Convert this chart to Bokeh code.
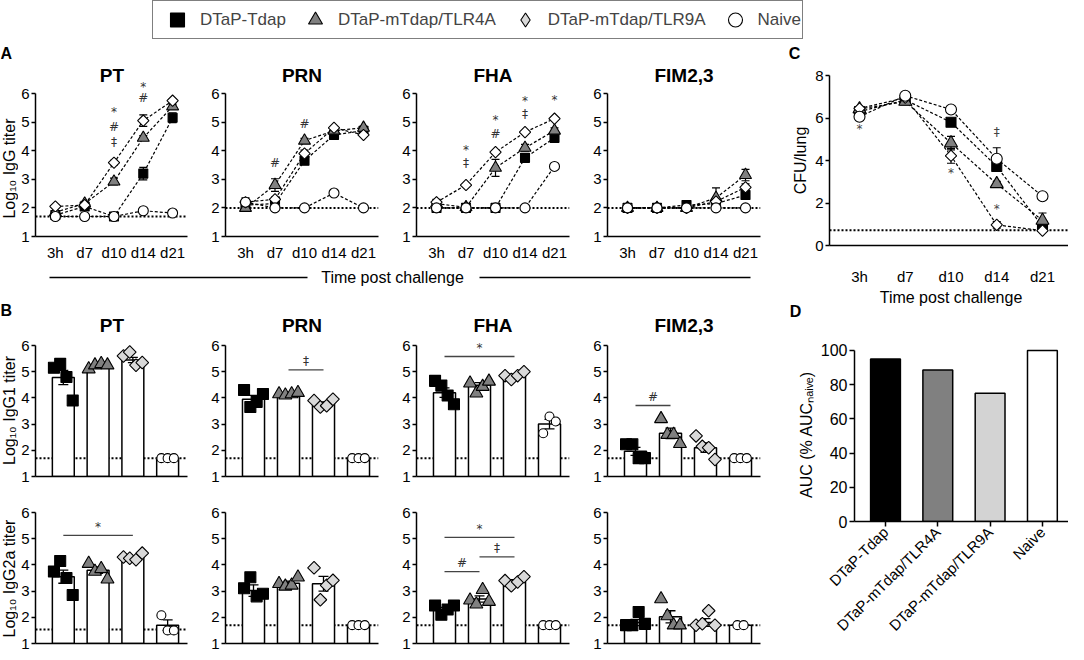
import numpy as np
from math import pi
from bokeh.plotting import figure
from bokeh.layouts import row, column
from bokeh.models import Range1d, FixedTicker, Span, Label, Legend, LegendItem
from bokeh.embed import file_html
from bokeh.resources import INLINE
from bokeh.core.properties import value

FONT = "Liberation Sans"
SYM_FONT = "DejaVu Sans"

TIMES = ["3h", "d7", "d10", "d14", "d21"]
GROUPS = ["DTaP-Tdap", "DTaP-mTdap/TLR4A", "DTaP-mTdap/TLR9A", "Naive"]
ANTIGENS = ["PT", "PRN", "FHA", "FIM2,3"]
LOG_TICKS = [1, 2, 3, 4, 5, 6]
CFU_TICKS = [0, 2, 4, 6, 8]
AUC_TICKS = [0, 20, 40, 60, 80, 100]

# ---------------- Panel A: Log10 IgG titer over time (mean, SEM) ----------------
A_PT_TDAP = [1.75, 2.05, 1.70, 3.20, 5.15]
A_PT_TLR4 = [1.85, 2.15, 2.92, 4.45, 5.55]
A_PT_TLR9 = [2.05, 2.10, 3.58, 5.05, 5.75]
A_PT_NAIVE = [1.70, 1.70, 1.70, 1.90, 1.82]
A_PT_TDAP_SEM = [0.03, 0.05, 0.00, 0.22, 0.17]
A_PT_TLR4_SEM = [0.04, 0.08, 0.12, 0.08, 0.08]
A_PT_TLR9_SEM = [0.04, 0.05, 0.08, 0.20, 0.05]
A_PT_NAIVE_SEM = [0.00, 0.00, 0.00, 0.05, 0.05]
A_PT_LOD = 1.7
A_PT_SIG_T = ["d10", "d10", "d10", "d14", "d14"]
A_PT_SIG_Y = [5.36, 4.84, 4.31, 6.23, 5.83]
A_PT_SIG = ["*", "#", "‡", "*", "#"]

A_PRN_TDAP = [2.10, 2.15, 3.65, 4.55, 4.70]
A_PRN_TLR4 = [2.00, 2.80, 4.35, 4.70, 4.80]
A_PRN_TLR9 = [2.20, 2.30, 3.90, 4.80, 4.55]
A_PRN_NAIVE = [2.20, 2.00, 2.00, 2.52, 2.00]
A_PRN_TDAP_SEM = [0.05, 0.05, 0.08, 0.05, 0.05]
A_PRN_TLR4_SEM = [0.05, 0.22, 0.08, 0.08, 0.05]
A_PRN_TLR9_SEM = [0.15, 0.08, 0.12, 0.05, 0.05]
A_PRN_NAIVE_SEM = [0.05, 0.00, 0.00, 0.05, 0.00]
A_PRN_LOD = 2.0
A_PRN_SIG_T = ["d7", "d10"]
A_PRN_SIG_Y = [3.56, 4.95]
A_PRN_SIG = ["#", "#"]

A_FHA_TDAP = [2.00, 2.00, 2.00, 3.75, 4.45]
A_FHA_TLR4 = [2.15, 2.02, 3.40, 4.10, 4.70]
A_FHA_TLR9 = [2.20, 2.80, 3.95, 4.65, 5.12]
A_FHA_NAIVE = [2.00, 2.00, 2.00, 2.00, 3.45]
A_FHA_TDAP_SEM = [0.04, 0.00, 0.00, 0.10, 0.08]
A_FHA_TLR4_SEM = [0.15, 0.02, 0.30, 0.12, 0.10]
A_FHA_TLR9_SEM = [0.08, 0.05, 0.05, 0.05, 0.05]
A_FHA_NAIVE_SEM = [0.00, 0.00, 0.00, 0.00, 0.08]
A_FHA_LOD = 2.0
A_FHA_SIG_T = ["d7", "d7", "d10", "d10", "d14", "d14", "d21"]
A_FHA_SIG_Y = [4.02, 3.56, 5.07, 4.60, 5.73, 5.30, 5.77]
A_FHA_SIG = ["*", "‡", "*", "#", "*", "‡", "*"]

A_FIM_TDAP = [2.00, 2.00, 2.10, 2.15, 2.45]
A_FIM_TLR4 = [2.00, 2.00, 2.00, 2.35, 3.15]
A_FIM_TLR9 = [2.00, 2.00, 2.00, 2.22, 2.72]
A_FIM_NAIVE = [2.00, 2.00, 2.00, 2.00, 2.00]
A_FIM_TDAP_SEM = [0.00, 0.00, 0.03, 0.05, 0.12]
A_FIM_TLR4_SEM = [0.00, 0.00, 0.00, 0.35, 0.20]
A_FIM_TLR9_SEM = [0.00, 0.00, 0.00, 0.05, 0.12]
A_FIM_NAIVE_SEM = [0.00, 0.00, 0.00, 0.00, 0.00]
A_FIM_LOD = 2.0
A_FIM_SIG_T = []
A_FIM_SIG_Y = []
A_FIM_SIG = []

# ---------------- Panel B: IgG1 / IgG2a (individual mice, mean, SEM) ----------------
B_G1_PT_PTS = [[5.15, 5.30, 4.80, 3.90], [5.10, 5.25, 5.30, 5.25], [5.60, 5.75, 5.25, 5.35], [1.70, 1.70, 1.70]]
B_G1_PT_BAR = [4.78, 5.22, 5.45, 1.70]
B_G1_PT_SEM = [0.27, 0.04, 0.10, 0.00]
B_G1_PT_LOD = 1.7
B_G1_PT_SIG = []

B_G1_PRN_PTS = [[4.30, 3.65, 3.85, 4.15], [4.15, 4.10, 4.15, 4.20], [3.90, 3.65, 3.70, 3.95], [1.70, 1.70, 1.70]]
B_G1_PRN_BAR = [3.95, 4.12, 3.78, 1.70]
B_G1_PRN_SEM = [0.15, 0.03, 0.07, 0.00]
B_G1_PRN_LOD = 1.7
B_G1_PRN_SIG = [(1, 2, 5.07, "‡")]

B_G1_FHA_PTS = [[4.65, 4.47, 4.09, 3.76], [4.56, 4.18, 4.43, 4.63], [4.85, 4.70, 4.85, 5.00], [2.65, 3.29, 3.10]]
B_G1_FHA_BAR = [4.20, 4.48, 4.85, 3.00]
B_G1_FHA_SEM = [0.18, 0.10, 0.06, 0.18]
B_G1_FHA_LOD = 1.7
B_G1_FHA_SIG = [(0, 2, 5.58, "*")]

B_G1_FIM_PTS = [[2.23, 2.23, 1.70, 1.70], [3.20, 2.60, 2.60, 2.25], [2.55, 2.15, 2.10, 1.65], [1.70, 1.70, 1.70]]
B_G1_FIM_BAR = [1.96, 2.65, 2.10, 1.70]
B_G1_FIM_SEM = [0.15, 0.20, 0.18, 0.00]
B_G1_FIM_LOD = 1.7
B_G1_FIM_SIG = [(0, 1, 3.71, "#")]

B_G2_PT_PTS = [[3.75, 4.15, 3.50, 2.85], [4.05, 3.75, 3.85, 3.45], [4.30, 4.25, 4.20, 4.45], [2.08, 1.50, 1.50]]
B_G2_PT_BAR = [3.55, 3.80, 4.30, 1.70]
B_G2_PT_SEM = [0.25, 0.12, 0.05, 0.20]
B_G2_PT_LOD = 1.53
B_G2_PT_SIG = [(0, 2, 5.13, "*")]

B_G2_PRN_PTS = [[3.11, 3.53, 2.80, 2.90], [3.28, 3.18, 3.22, 3.53], [3.89, 2.67, 3.22, 3.41], [1.70, 1.70, 1.70]]
B_G2_PRN_BAR = [3.02, 3.30, 3.28, 1.70]
B_G2_PRN_SEM = [0.22, 0.08, 0.28, 0.00]
B_G2_PRN_LOD = 1.7
B_G2_PRN_SIG = []

B_G2_FHA_PTS = [[2.45, 2.10, 2.30, 2.45], [2.65, 2.50, 3.05, 2.60], [3.40, 3.20, 3.35, 3.55], [1.70, 1.70, 1.70]]
B_G2_FHA_BAR = [2.30, 2.70, 3.37, 1.70]
B_G2_FHA_SEM = [0.08, 0.12, 0.07, 0.00]
B_G2_FHA_LOD = 1.7
B_G2_FHA_SIG = [(0, 2, 5.05, "*"), (1, 2, 4.31, "‡"), (0, 1, 3.74, "#")]

B_G2_FIM_PTS = [[1.70, 1.70, 2.20, 1.75], [2.70, 2.05, 1.70, 1.70], [1.70, 1.75, 2.25, 1.70], [1.70, 1.70]]
B_G2_FIM_BAR = [1.80, 2.02, 1.80, 1.70]
B_G2_FIM_SEM = [0.12, 0.23, 0.15, 0.00]
B_G2_FIM_LOD = 1.7
B_G2_FIM_SIG = []

# ---------------- Panel C: CFU/lung (log10) ----------------
C_TDAP = [6.30, 6.85, 5.80, 3.72, 0.90]
C_TLR4 = [6.42, 6.78, 4.82, 2.90, 1.18]
C_TLR9 = [6.45, 6.95, 4.22, 0.97, 0.70]
C_NAIVE = [6.06, 7.05, 6.40, 4.08, 2.32]
C_TDAP_SEM = [0.05, 0.05, 0.08, 0.15, 0.20]
C_TLR4_SEM = [0.05, 0.05, 0.32, 0.12, 0.35]
C_TLR9_SEM = [0.05, 0.05, 0.35, 0.15, 0.05]
C_NAIVE_SEM = [0.05, 0.05, 0.05, 0.52, 0.08]
C_LOD = 0.72
C_SIG_T = ["3h", "d10", "d14", "d14"]
C_SIG_Y = [5.50, 3.42, 5.36, 1.70]
C_SIG = ["*", "*", "‡", "*"]

# ---------------- Panel D: AUC (% of naive) ----------------
D_AUC = [95.0, 88.5, 75.0, 100.0]

# ---------------- styles / layout constants ----------------
MARKS = ["square", "triangle", "square", "circle"]
LEGEND_MARKS = ["square", "triangle", "diamond", "circle"]
ANGLES = [0.0, 0.0, pi / 4, 0.0]
FILL_A = ["black", "#808080", "white", "white"]
FILL_B = ["black", "#808080", "#d9d9d9", "white"]
SIZE_A = [9, 12, 8, 10]
SIZE_B = [11, 13, 9, 9]
SIZE_C = [10, 13, 8, 11]
D_COLORS = ["black", "#808080", "#d3d3d3", "white"]

TOTAL_W = 1068
LEG_H = 40
BODY_H = 610
FRAME_W = 153
A_PX = 28.6          # px per log unit, panel A
B_PX = 26.2          # px per log unit, panel B
A_STEP = 29.5
A_X0 = 1 - 20 / A_STEP
B_STEP = 35.0
B_X0 = -0.8
BAR_W = 0.63
YL_W = 18                      # strip with panel letters A/B and the y-axis titles
W_FIRST, W_OTHER = 175, 191
BL_FIRST, BL_OTHER = 16, 32
GRID_W = W_FIRST + 3 * W_OTHER
LEFT_W = YL_W + GRID_W
RIGHT_W = TOTAL_W - LEFT_W
FRAME_LEFTS = [BL_FIRST] + [W_FIRST + (i - 1) * W_OTHER + BL_OTHER for i in range(1, 4)]
SIG_GAP = 0.33


def no_align(p):
    if "frame_align" in p.properties():
        p.frame_align = False
    return p


def style_axes(p, size="15px"):
    for ax in p.axis:
        ax.axis_line_color = "black"
        ax.axis_line_width = 1.5
        ax.major_tick_line_color = "black"
        ax.major_tick_line_width = 1.5
        ax.minor_tick_line_color = None
        ax.major_tick_in = 0
        ax.major_tick_out = 4
        ax.major_label_standoff = 2
        ax.major_label_text_font = FONT
        ax.major_label_text_font_size = size
        ax.major_label_text_color = "black"
        ax.axis_label_text_font = FONT
        ax.axis_label_text_font_size = "16px"
        ax.axis_label_text_font_style = "normal"
        ax.axis_label_text_color = "black"
        ax.axis_label_standoff = 3


def base_fig(w, h, xr, yr, bl, br, bt, bb, size="15px"):
    p = figure(width=w, height=h, x_range=Range1d(*xr), y_range=Range1d(*yr), title=None,
               toolbar_location=None, output_backend="svg",
               min_border_left=bl, min_border_right=br,
               min_border_top=bt, min_border_bottom=bb)
    p.outline_line_color = None
    p.grid.visible = False
    p.background_fill_color = "white"
    p.border_fill_color = "white"
    style_axes(p, size)
    return no_align(p)


def strip(w, h):
    s = figure(width=w, height=h, x_range=Range1d(0, w), y_range=Range1d(0, h), title=None,
               toolbar_location=None, output_backend="svg", x_axis_type=None, y_axis_type=None,
               min_border=0)
    s.outline_line_color = None
    s.background_fill_color = "white"
    s.border_fill_color = "white"
    return no_align(s)


def put(s, x, y, text, size="16px", bold=False, align="left", angle=0.0, units="data"):
    s.add_layout(Label(x=x, y=y, x_units=units, y_units=units, text=text, text_font=FONT,
                       text_font_size=size, text_font_style="bold" if bold else "normal",
                       angle=angle, text_align=align, text_baseline="middle",
                       text_color="black"))


def lod_line(p, lod):
    p.add_layout(Span(location=lod, dimension="width", line_color="black",
                      line_width=2, line_dash="2 2", level="underlay"))


def draw_course(p, series, sems, sizes, fills):
    x = np.arange(1, len(TIMES) + 1)
    for y in series:
        p.line(x, y, line_color="black", line_width=1.2, line_dash="3 2")
    for y, e in zip(series, sems):
        y = np.asarray(y, dtype=float)
        e = np.asarray(e, dtype=float)
        p.segment(x, y - e, x, y + e, line_color="black", line_width=1.2)
        p.scatter(x, y + e, marker="dash", size=8, line_color="black", line_width=1.2)
        p.scatter(x, y - e, marker="dash", size=8, line_color="black", line_width=1.2)
    for g, y in enumerate(series):
        p.scatter(x, y, marker=MARKS[g], angle=ANGLES[g], size=sizes[g],
                  fill_color=fills[g], line_color="black", line_width=1.1)


def draw_sig_text(p, xs, ys, texts, color="#333333"):
    if len(texts) == 0:
        return
    p.text(x=xs, y=ys, text=texts, text_font=value(SYM_FONT), text_font_size=value("12px"),
           text_align="center", text_baseline="middle", text_color=color)


def panel_a(title, series, sems, lod, sig_t, sig_y, sig, i):
    w = W_FIRST if i == 0 else W_OTHER
    bl = BL_FIRST if i == 0 else BL_OTHER
    fh = 173
    p = base_fig(w, 226, (A_X0, A_X0 + FRAME_W / A_STEP), (1, 1 + fh / A_PX),
                 bl, w - bl - FRAME_W, 23, 30)
    p.yaxis.bounds = (1, 6)
    p.yaxis.ticker = FixedTicker(ticks=LOG_TICKS)
    xt = list(range(1, len(TIMES) + 1))
    p.xaxis.ticker = FixedTicker(ticks=xt)
    p.xaxis.major_label_overrides = {k: t for k, t in zip(xt, TIMES)}
    p.xaxis.major_tick_line_color = None
    p.xaxis.major_tick_out = 0
    p.xaxis.major_label_standoff = 7
    lod_line(p, lod)
    draw_course(p, series, sems, SIZE_A, FILL_A)
    draw_sig_text(p, [TIMES.index(t) + 1 for t in sig_t], sig_y, sig)
    put(p, FRAME_W / 2, 161, title, size="19px", bold=True, align="center", units="screen")
    return p


def panel_b(title, pts, bars, sems, lod, sigs, top_row, i):
    w = W_FIRST if i == 0 else W_OTHER
    bl = BL_FIRST if i == 0 else BL_OTHER
    if top_row:
        h, bt, fh, bb = 202, 26, 162, 14
    else:
        h, bt, fh, bb = 160, 17, 136, 7
    p = base_fig(w, h, (B_X0, B_X0 + FRAME_W / B_STEP), (1, 1 + fh / B_PX),
                 bl, w - bl - FRAME_W, bt, bb)
    p.yaxis.bounds = (1, 6)
    p.yaxis.ticker = FixedTicker(ticks=LOG_TICKS)
    p.xaxis.ticker = FixedTicker(ticks=[])
    p.xaxis.major_tick_line_color = None
    lod_line(p, lod)
    xs = np.arange(len(GROUPS))
    p.vbar(x=xs, top=bars, bottom=LOG_TICKS[0], width=BAR_W, fill_color="white",
           line_color="black", line_width=1.5)
    b = np.asarray(bars, dtype=float)
    s = np.asarray(sems, dtype=float)
    p.segment(xs, b - s, xs, b + s, line_color="black", line_width=1.3)
    p.scatter(xs, b + s, marker="dash", size=10, line_color="black", line_width=1.3)
    p.scatter(xs, b - s, marker="dash", size=10, line_color="black", line_width=1.3)
    for g, vals in enumerate(pts):
        n = len(vals)
        off = (np.arange(n) - (n - 1) / 2) * 0.18
        p.scatter(g + off, vals, marker=MARKS[g], angle=ANGLES[g], size=SIZE_B[g],
                  fill_color=FILL_B[g], line_color="black", line_width=1.1)
    if sigs:
        x0 = [a for a, _, _, _ in sigs]
        x1 = [c for _, c, _, _ in sigs]
        yy = [y for _, _, y, _ in sigs]
        p.segment(x0, yy, x1, yy, line_color="#444444", line_width=1.3)
        draw_sig_text(p, [(a + c) / 2 for a, c in zip(x0, x1)], [y + SIG_GAP for y in yy],
                      [t for _, _, _, t in sigs])
    if top_row:
        put(p, FRAME_W / 2, 151, title, size="19px", bold=True, align="center", units="screen")
    return p


# ---------------- legend strip ----------------
leg = figure(width=TOTAL_W, height=LEG_H, x_range=Range1d(0, 1), y_range=Range1d(0, 1), title=None,
             toolbar_location=None, output_backend="svg", x_axis_type=None, y_axis_type=None,
             min_border=0)
leg.outline_line_color = None
no_align(leg)
items = []
for g, name in enumerate(GROUPS):
    # one off-screen point per group so that the legend can draw its marker
    r = leg.scatter(x=[g], y=[-1], marker=LEGEND_MARKS[g], size=10,
                    fill_color=FILL_B[g], line_color="black", line_width=1.1)
    items.append(LegendItem(label=name, renderers=[r]))
legend = Legend(items=items, orientation="horizontal", location=(152, 1),
                glyph_width=46, glyph_height=35, label_standoff=-10, spacing=6,
                padding=1, margin=0, border_line_color="black", border_line_width=1.2,
                background_fill_color="white", background_fill_alpha=1.0,
                label_text_font=FONT, label_text_font_size="17px")
leg.add_layout(legend)

# ---------------- left strip: panel letters and y-axis titles ----------------
yl = strip(YL_W, BODY_H)
put(yl, 0, 597, "A", bold=True)
put(yl, 0, 340, "B", bold=True)
put(yl, 9, 482, "Log₁₀ IgG titer", align="center", angle=pi / 2)
put(yl, 9, 240, "Log₁₀ IgG1 titer", align="center", angle=pi / 2)
put(yl, 9, 72, "Log₁₀ IgG2a titer", align="center", angle=pi / 2)

# ---------------- panel A ----------------
a_figs = [
    panel_a("PT", [A_PT_TDAP, A_PT_TLR4, A_PT_TLR9, A_PT_NAIVE],
            [A_PT_TDAP_SEM, A_PT_TLR4_SEM, A_PT_TLR9_SEM, A_PT_NAIVE_SEM],
            A_PT_LOD, A_PT_SIG_T, A_PT_SIG_Y, A_PT_SIG, 0),
    panel_a("PRN", [A_PRN_TDAP, A_PRN_TLR4, A_PRN_TLR9, A_PRN_NAIVE],
            [A_PRN_TDAP_SEM, A_PRN_TLR4_SEM, A_PRN_TLR9_SEM, A_PRN_NAIVE_SEM],
            A_PRN_LOD, A_PRN_SIG_T, A_PRN_SIG_Y, A_PRN_SIG, 1),
    panel_a("FHA", [A_FHA_TDAP, A_FHA_TLR4, A_FHA_TLR9, A_FHA_NAIVE],
            [A_FHA_TDAP_SEM, A_FHA_TLR4_SEM, A_FHA_TLR9_SEM, A_FHA_NAIVE_SEM],
            A_FHA_LOD, A_FHA_SIG_T, A_FHA_SIG_Y, A_FHA_SIG, 2),
    panel_a("FIM2,3", [A_FIM_TDAP, A_FIM_TLR4, A_FIM_TLR9, A_FIM_NAIVE],
            [A_FIM_TDAP_SEM, A_FIM_TLR4_SEM, A_FIM_TLR9_SEM, A_FIM_NAIVE_SEM],
            A_FIM_LOD, A_FIM_SIG_T, A_FIM_SIG_Y, A_FIM_SIG, 3),
]

# ---------------- "Time post challenge" strip ----------------
ts = strip(GRID_W, 22)
TS_Y = 11
TS_TEXT_X = 374
ts.segment(x0=[FRAME_LEFTS[0] + 15, TS_TEXT_X + 87], y0=[TS_Y, TS_Y],
           x1=[TS_TEXT_X - 85, FRAME_LEFTS[3] + FRAME_W - 10], y1=[TS_Y, TS_Y],
           line_color="black", line_width=1.3)
put(ts, TS_TEXT_X, TS_Y, "Time post challenge", align="center")

# ---------------- panel B ----------------
b1_figs = [
    panel_b("PT", B_G1_PT_PTS, B_G1_PT_BAR, B_G1_PT_SEM, B_G1_PT_LOD, B_G1_PT_SIG, True, 0),
    panel_b("PRN", B_G1_PRN_PTS, B_G1_PRN_BAR, B_G1_PRN_SEM, B_G1_PRN_LOD, B_G1_PRN_SIG, True, 1),
    panel_b("FHA", B_G1_FHA_PTS, B_G1_FHA_BAR, B_G1_FHA_SEM, B_G1_FHA_LOD, B_G1_FHA_SIG, True, 2),
    panel_b("FIM2,3", B_G1_FIM_PTS, B_G1_FIM_BAR, B_G1_FIM_SEM, B_G1_FIM_LOD, B_G1_FIM_SIG, True, 3),
]
b2_figs = [
    panel_b("PT", B_G2_PT_PTS, B_G2_PT_BAR, B_G2_PT_SEM, B_G2_PT_LOD, B_G2_PT_SIG, False, 0),
    panel_b("PRN", B_G2_PRN_PTS, B_G2_PRN_BAR, B_G2_PRN_SEM, B_G2_PRN_LOD, B_G2_PRN_SIG, False, 1),
    panel_b("FHA", B_G2_FHA_PTS, B_G2_FHA_BAR, B_G2_FHA_SEM, B_G2_FHA_LOD, B_G2_FHA_SIG, False, 2),
    panel_b("FIM2,3", B_G2_FIM_PTS, B_G2_FIM_BAR, B_G2_FIM_SEM, B_G2_FIM_LOD, B_G2_FIM_SIG, False, 3),
]

# ---------------- panel C ----------------
C_BL = 829 - LEFT_W
C_W = RIGHT_W - C_BL
C_STEP = 45.75
C_FIRST = 30
C_X0 = 1 - C_FIRST / C_STEP
c_title = strip(RIGHT_W, 26)
put(c_title, 28, 13, "C", bold=True, align="center")
pc = base_fig(RIGHT_W, 221, (C_X0, C_X0 + C_W / C_STEP), (0, 8), C_BL, 0, 9, 41)
pc.yaxis.ticker = FixedTicker(ticks=CFU_TICKS)
xt = list(range(1, len(TIMES) + 1))
pc.xaxis.ticker = FixedTicker(ticks=xt)
pc.xaxis.major_label_overrides = {k: t for k, t in zip(xt, TIMES)}
pc.xaxis.major_tick_line_color = None
pc.xaxis.major_tick_out = 0
pc.xaxis.major_label_standoff = 22
pc.yaxis.axis_label = "CFU/lung"
lod_line(pc, C_LOD)
draw_course(pc, [C_TDAP, C_TLR4, C_TLR9, C_NAIVE],
            [C_TDAP_SEM, C_TLR4_SEM, C_TLR9_SEM, C_NAIVE_SEM], SIZE_C, FILL_A)
draw_sig_text(pc, [TIMES.index(t) + 1 for t in C_SIG_T], C_SIG_Y, C_SIG, color="#444444")

# strip between C and D: x-axis title of C and the panel letter D
cd = strip(RIGHT_W, 53)
put(cd, C_BL + C_FIRST + 2 * C_STEP, 43, "Time post challenge", align="center")
put(cd, 29, 29, "D", bold=True, align="center")

# ---------------- panel D ----------------
D_BL = 854 - LEFT_W
D_W = RIGHT_W - D_BL
D_STEP = 52.3
D_X0 = -31 / D_STEP
pd_ = base_fig(RIGHT_W, 310, (D_X0, D_X0 + D_W / D_STEP), (0, 101.7), D_BL, 0, 7, 129)
pd_.yaxis.ticker = FixedTicker(ticks=AUC_TICKS)
pd_.yaxis.bounds = (0, 100)
pd_.yaxis.major_tick_out = 5
pd_.yaxis.major_label_text_font_size = "16px"
dx = list(range(len(GROUPS)))
pd_.xaxis.ticker = FixedTicker(ticks=dx)
pd_.xaxis.major_label_overrides = {k: g for k, g in zip(dx, GROUPS)}
pd_.xaxis.major_label_orientation = pi / 4
pd_.xaxis.major_tick_out = 5
pd_.xaxis.major_label_standoff = 3
pd_.yaxis.axis_label = "AUC (% AUCₙₐᵢᵥₑ)"
pd_.vbar(x=dx, top=D_AUC, bottom=0, width=0.57, fill_color=D_COLORS,
         line_color="black", line_width=1.5)

layout = column(
    leg,
    row(
        yl,
        column(row(*a_figs), ts, row(*b1_figs), row(*b2_figs)),
        column(c_title, pc, cd, pd_),
    ),
)

open("out.html", "w").write(file_html(layout, INLINE))
